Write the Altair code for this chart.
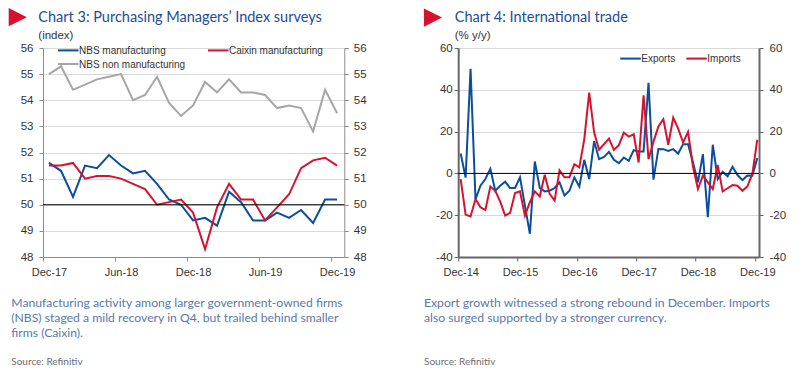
import altair as alt
import pandas as pd

# ---------------- data ----------------
pmi_months = ['Dec-17', 'Jan-18', 'Feb-18', 'Mar-18', 'Apr-18', 'May-18', 'Jun-18',
              'Jul-18', 'Aug-18', 'Sep-18', 'Oct-18', 'Nov-18', 'Dec-18', 'Jan-19',
              'Feb-19', 'Mar-19', 'Apr-19', 'May-19', 'Jun-19', 'Jul-19', 'Aug-19',
              'Sep-19', 'Oct-19', 'Nov-19', 'Dec-19']
nbs_mfg = [51.6, 51.3, 50.3, 51.5, 51.4, 51.9, 51.5, 51.2, 51.3, 50.8, 50.2, 50.0, 49.4,
           49.5, 49.2, 50.5, 50.1, 49.4, 49.4, 49.7, 49.5, 49.8, 49.3, 50.2, 50.2]
caixin_mfg = [51.5, 51.5, 51.6, 51.0, 51.1, 51.1, 51.0, 50.8, 50.6, 50.0, 50.1, 50.2, 49.7,
              48.3, 49.9, 50.8, 50.2, 50.2, 49.4, 49.9, 50.4, 51.4, 51.7, 51.8, 51.5]
nbs_nonmfg = [55.0, 55.3, 54.4, 54.6, 54.8, 54.9, 55.0, 54.0, 54.2, 54.9, 53.9, 53.4, 53.8,
              54.7, 54.3, 54.8, 54.3, 54.3, 54.2, 53.7, 53.8, 53.7, 52.8, 54.4, 53.5]
pmi_tick_labels = ['Dec-17', 'Jun-18', 'Dec-18', 'Jun-19', 'Dec-19']
pmi_series = ['NBS manufacturing', 'Caixin manufacturing', 'NBS non manufacturing']

trade_months = [d.strftime('%b-%y') for d in pd.date_range('2014-12-01', '2019-12-01', freq='MS')]
exports = [9.5, -2.0, 50.0, -12.5, -5.9, -2.7, 2.2, -8.3, -5.9, -4.0, -7.0, -7.0, -1.9,
           -15.4, -28.9, 5.7, -7.0, -8.6, -8.3, -7.0, -4.3, -10.6, -8.3, -1.9, -6.3,
           6.5, -2.7, 15.4, 6.8, 7.9, 10.3, 6.5, 4.9, 7.6, 6.0, 11.1, 10.5, 10.5, 43.3,
           -3.0, 11.7, 11.6, 10.8, 11.6, 9.5, 14.0, 14.0, 5.2, -4.3, 9.2, -21.0, 13.7,
           -2.7, 0.8, -1.4, 3.2, -0.8, -3.2, -1.0, -1.1, 7.3]
imports = [-2.7, -19.7, -20.6, -12.2, -16.2, -17.5, -6.3, -8.3, -13.5, -20.2, -18.9, -9.4,
           -8.6, -20.2, -13.8, -8.6, -11.0, -0.6, -9.8, -13.0, 1.5, -1.9, -1.9, 4.4, 2.9,
           16.3, 38.6, 19.5, 11.3, 14.0, 16.7, 11.3, 13.5, 19.5, 17.6, 18.7, 5.2, 37.3,
           6.8, 15.1, 22.5, 25.9, 13.7, 26.7, 21.4, 14.8, 19.8, 3.2, -7.5, -1.1, -4.3,
           -7.5, 4.0, -8.6, -7.1, -5.6, -5.9, -8.3, -6.2, -0.3, 16.0]
trade_tick_labels = ['Dec-14', 'Dec-15', 'Dec-16', 'Dec-17', 'Dec-18', 'Dec-19']
trade_series = ['Exports', 'Imports']

# ---------------- style ----------------
BLUE = '#0b4e9d'
RED = '#d5132f'
GREY = '#a6a6a6'
TITLE_BLUE = '#1a4c9a'
CAPTION_BLUE = '#5a79aa'
TXT = '#333333'
TITLE_FONT = 'Lato'
AX_FONT = 'Liberation Sans'
TRI = 'M-1,-1L1,0L-1,1Z'

pmi_df = pd.DataFrame({
    'i': list(range(len(pmi_months))) * 3,
    'month': pmi_months * 3,
    'v': nbs_mfg + caixin_mfg + nbs_nonmfg,
    's': [pmi_series[0]] * len(pmi_months) + [pmi_series[1]] * len(pmi_months)
         + [pmi_series[2]] * len(pmi_months),
})
trade_df = pd.DataFrame({
    'i': list(range(len(trade_months))) * 2,
    'month': trade_months * 2,
    'v': exports + imports,
    's': [trade_series[0]] * len(trade_months) + [trade_series[1]] * len(trade_months),
})

one = pd.DataFrame({'k': [0]})


def txt(x, y, text, size, color, font, weight='normal', lh=None):
    kw = dict(align='left', baseline='alphabetic', fontSize=size, color=color,
              font=font, fontWeight=weight)
    if lh is not None:
        kw['lineHeight'] = lh
    return alt.Chart(one).mark_text(**kw).encode(
        x=alt.value(x), y=alt.value(y), text=alt.value(text))


def legend_item(x, y, label, color):
    seg = alt.Chart(one).mark_rule(color=color, strokeWidth=2).encode(
        x=alt.value(x), x2=alt.value(x + 20.5), y=alt.value(y))
    lab = alt.Chart(one).mark_text(align='left', baseline='middle', fontSize=10,
                                   font=AX_FONT, color=TXT).encode(
        x=alt.value(x + 21), y=alt.value(y + 0.5), text=alt.value(label))
    return [seg, lab]


def panel(df, series, colors, ticklabels, tick_step, xdom, ydom, yvals, zero,
          width, label_offset, axis_w, axis_col, lpad_l, lpad_r,
          title, unit, caption, tri_xy, title_x, cap_x, legend_items):
    n_lab = len(ticklabels)
    tick_vals = [-0.5 + tick_step * k for k in range(n_lab)]
    label_expr = ("[" + ",".join("'%s'" % t for t in ticklabels) + "]"
                  "[round((datum.value + 0.5) / %d)]" % tick_step)
    xenc = alt.X('i:Q', scale=alt.Scale(domain=xdom, nice=False, zero=False),
                 axis=alt.Axis(values=tick_vals, labelExpr=label_expr, title=None,
                               grid=False, labelFlush=False, labelOverlap=False,
                               labelOffset=label_offset, tickSize=4, labelPadding=5,
                               domainColor=axis_col, domainWidth=axis_w,
                               tickColor=axis_col, tickWidth=1,
                               labelFont=AX_FONT, labelFontSize=11, labelColor=TXT))
    yscale = alt.Scale(domain=ydom, nice=False, zero=False)
    left_axis = alt.Axis(values=yvals, labelExpr="'' + datum.value", title=None,
                         grid=True, gridColor='#d9d9d9', gridWidth=1,
                         domainColor=axis_col, domainWidth=axis_w, tickColor=axis_col,
                         tickSize=4, labelPadding=lpad_l, labelFont=AX_FONT,
                         labelFontSize=11.5, labelColor=TXT)
    right_axis = alt.Axis(orient='right', values=yvals, labelExpr="'' + datum.value",
                          title=None, grid=False, domainColor=axis_col,
                          domainWidth=axis_w, tickColor=axis_col, tickSize=4,
                          labelPadding=lpad_r, labelFont=AX_FONT, labelFontSize=11.5,
                          labelColor=TXT)
    lines = []
    for s, c in zip(series, colors):
        lines.append(alt.Chart(df).transform_filter(alt.datum.s == s)
                     .mark_line(color=c, strokeWidth=2)
                     .encode(x=xenc, y=alt.Y('v:Q', scale=yscale, axis=left_axis)))
    main = alt.layer(*lines)
    zero_rule = alt.Chart(pd.DataFrame({'v': [zero]})).mark_rule(
        color='black', strokeWidth=1).encode(
        y=alt.Y('v:Q', scale=yscale, axis=right_axis))
    tri = alt.Chart(one).mark_point(shape=TRI, size=330, filled=True, color=RED,
                                    opacity=1, strokeWidth=0).encode(
        x=alt.value(tri_xy[0]), y=alt.value(tri_xy[1]))
    extras = [tri,
              txt(title_x, -26.2, title, 14.5, TITLE_BLUE, TITLE_FONT),
              txt(title_x, -9.3, unit, 11.5, TXT, AX_FONT),
              txt(cap_x, 258.7, caption, 12.2, CAPTION_BLUE, TITLE_FONT, lh=15),
              txt(cap_x, 316.7, 'Source: Refinitiv', 10, '#6d6d6d', TITLE_FONT)]
    for it in legend_items:
        extras += legend_item(*it)
    return alt.layer(main, zero_rule, *extras).resolve_scale(y='independent').properties(
        width=width, height=209)


left = panel(pmi_df, [pmi_series[2], pmi_series[0], pmi_series[1]], [GREY, BLUE, RED],
             pmi_tick_labels, 6, [-0.5, 24.6], [48, 56], list(range(48, 57)), 50,
             301.3, 6, 1, '#8c8c8c', 6, 5,
             'Chart 3: Purchasing Managers\u2019 Index surveys', '(index)',
             ['Manufacturing activity among larger government-owned firms',
              '(NBS) staged a mild recovery in Q4, but trailed behind smaller',
              'firms (Caixin).'],
             (-25.2, -30.8), -4.7, -31.7,
             [(15, 2.4, pmi_series[0], BLUE), (165, 2.4, pmi_series[1], RED),
              (15, 16.0, pmi_series[2], GREY)])

right = panel(trade_df, trade_series, [BLUE, RED],
              trade_tick_labels, 12, [-0.5, 60.35], [-40, 60], list(range(-40, 61, 20)), 0,
              300.8, 2.5, 2, '#666666', 2, 6,
              'Chart 4: International trade', '(% y/y)',
              ['Export growth witnessed a strong rebound in December. Imports',
               'also surged supported by a stronger currency.'],
              (-25.2, -30.4), -3.5, -34.2,
              [(162.1, 10.6, trade_series[0], BLUE), (228.1, 10.6, trade_series[1], RED)])

chart = alt.hconcat(left, right, spacing=113.2, bounds='flush').properties(
    padding=0).configure_view(stroke=None)

chart.save('out.html', embed_options={'renderer': 'svg', 'actions': False})
